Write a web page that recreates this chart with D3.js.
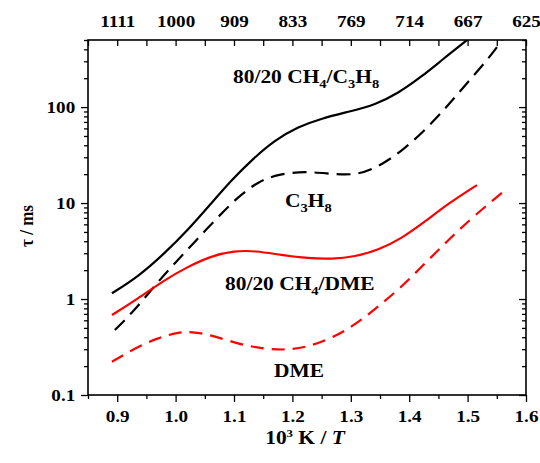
<!DOCTYPE html>
<html>
<head>
<meta charset="utf-8">
<script src="https://cdn.jsdelivr.net/npm/d3@7"></script>
<style>
  html, body { margin: 0; padding: 0; background: #fff; }
  svg text { font-family: "Liberation Serif", "Times New Roman", serif; font-weight: bold; fill: #000; }
</style>
</head>
<body>
<svg id="chart" width="540" height="463"></svg>
<script>
// Ignition delay time vs inverse temperature (log scale)
const xTicks = [0.9, 1.0, 1.1, 1.2, 1.3, 1.4, 1.5, 1.6];
const yTicks = [0.1, 1, 10, 100];
const yTickLabels = ["0.1", "1", "10", "100"];
const topTickLabels = ["1111", "1000", "909", "833", "769", "714", "667", "625"];

// 80/20 CH4/C3H8 (solid black)
const blendC3H8X = [0.891, 0.936, 0.981, 1.021, 1.061, 1.096, 1.130, 1.170, 1.210, 1.250, 1.296, 1.341, 1.381, 1.421, 1.456, 1.499];
const blendC3H8Tau = [1.15, 1.71, 2.99, 5.23, 9.93, 17.4, 28, 45.3, 62.4, 76.2, 89.3, 105, 139, 207, 309, 499];

// C3H8 (dashed black)
const propaneX = [0.896, 0.930, 0.970, 1.001, 1.033, 1.073, 1.107, 1.141, 1.176, 1.221, 1.273, 1.313, 1.353, 1.393, 1.433, 1.467, 1.501, 1.536, 1.559];
const propaneTau = [0.475, 0.767, 1.52, 2.45, 3.95, 7.21, 11.6, 16.7, 20.0, 21.5, 19.9, 19.6, 24.9, 37.1, 62.4, 105, 184, 321, 499];

// 80/20 CH4/DME (solid red)
const blendDMEX = [0.891, 0.936, 0.981, 1.021, 1.061, 1.101, 1.136, 1.181, 1.227, 1.267, 1.307, 1.347, 1.387, 1.427, 1.467, 1.516];
const blendDMETau = [0.681, 1.016, 1.58, 2.17, 2.81, 3.18, 3.18, 2.87, 2.65, 2.61, 2.76, 3.24, 4.28, 6.39, 9.9, 15.4];

// DME (dashed red)
const dmeX = [0.891, 0.930, 0.970, 1.004, 1.027, 1.061, 1.107, 1.153, 1.193, 1.227, 1.267, 1.307, 1.347, 1.387, 1.427, 1.467, 1.507, 1.564];
const dmeTau = [0.222, 0.306, 0.395, 0.450, 0.457, 0.422, 0.340, 0.301, 0.294, 0.319, 0.389, 0.536, 0.832, 1.34, 2.35, 4.12, 7.0, 13.6];

const series = [
  { x: blendC3H8X, y: blendC3H8Tau, color: "#000", dash: null },
  { x: propaneX, y: propaneTau, color: "#000", dash: "14,8" },
  { x: blendDMEX, y: blendDMETau, color: "#ff0000", dash: null },
  { x: dmeX, y: dmeTau, color: "#ff0000", dash: "13,8" }
];

const svg = d3.select("#chart");
const L = 88, R = 526, T = 40, B = 395;
const SX = 1.16;          // horizontal stretch applied to all lettering
const tickFont = "16.5px";

const x = d3.scaleLinear().domain([0.85, 1.6]).range([L, R]);
const y = d3.scaleLog().domain([0.1, 500]).range([B, T]);

svg.append("defs").append("clipPath").attr("id", "plotClip")
  .append("rect").attr("x", L).attr("y", T).attr("width", R - L).attr("height", B - T);

// minor tick positions
const xMinor = d3.range(0.85, 1.6001, 0.05).map(v => +v.toFixed(2)).filter(v => !xTicks.some(t => Math.abs(t - v) < 1e-6));
const yMinor = [];
[0.1, 1, 10, 100].forEach(d => { for (let k = 2; k <= 9; k++) { const v = d * k; if (v <= 500) yMinor.push(v); } });

// bottom axis: outward ticks
const gBottom = svg.append("g").attr("transform", `translate(0,${B})`);
gBottom.call(d3.axisBottom(x).tickValues(xTicks).tickFormat(d3.format(".1f")).tickSize(7).tickPadding(8));
gBottom.append("g").call(d3.axisBottom(x).tickValues(xMinor).tickSize(4).tickFormat(""));

// top axis: inward ticks, labels in K
const gTop = svg.append("g").attr("transform", `translate(0,${T})`);
gTop.call(d3.axisTop(x).tickValues(xTicks).tickSizeInner(-6).tickSizeOuter(0).tickPadding(13)
  .tickFormat((d, i) => topTickLabels[i]));
gTop.append("g").call(d3.axisTop(x).tickValues(xMinor).tickSizeInner(-6).tickSizeOuter(0).tickFormat(""));

// left axis: outward ticks
const gLeft = svg.append("g").attr("transform", `translate(${L},0)`);
gLeft.call(d3.axisLeft(y).tickValues(yTicks).tickFormat((d, i) => yTickLabels[i]).tickSize(7).tickPadding(4));
gLeft.append("g").call(d3.axisLeft(y).tickValues(yMinor).tickSize(4).tickFormat(""));

// right axis: inward ticks
const gRight = svg.append("g").attr("transform", `translate(${R},0)`);
gRight.call(d3.axisRight(y).tickValues(yTicks).tickSizeInner(-7).tickSizeOuter(0).tickFormat(""));
gRight.append("g").call(d3.axisRight(y).tickValues(yMinor).tickSizeInner(-4).tickSizeOuter(0).tickFormat(""));

svg.selectAll(".domain").remove();
svg.selectAll(".tick line").attr("stroke", "#000").attr("stroke-width", 1.3);
svg.selectAll(".tick text").style("font-size", tickFont).attr("fill", "#000")
  .attr("transform", `scale(${SX},1)`);

// frame
svg.append("rect").attr("x", L).attr("y", T).attr("width", R - L).attr("height", B - T)
  .attr("fill", "none").attr("stroke", "#000").attr("stroke-width", 1.6);

// curves (smoothed B-spline through the sampled values)
const line = d3.line().x(d => x(d[0])).y(d => y(d[1])).curve(d3.curveBasis);
const plot = svg.append("g").attr("clip-path", "url(#plotClip)");
series.forEach(s => {
  const pts = s.x.map((v, i) => [v, s.y[i]]);
  plot.append("path").datum(pts).attr("d", line)
    .attr("fill", "none").attr("stroke", s.color).attr("stroke-width", 2.2)
    .attr("stroke-dasharray", s.dash);
});

// series labels with subscripts
function label(xp, yp, parts) {
  const t = svg.append("text").attr("transform", `translate(${xp},${yp}) scale(${SX},1)`)
    .style("font-size", "18.5px");
  let lowered = false;
  parts.forEach(p => {
    if (typeof p === "string") {
      t.append("tspan").attr("dy", lowered ? -5 : 0).text(p);
      lowered = false;
    } else {
      t.append("tspan").attr("dy", lowered ? 0 : 5).style("font-size", "12.5px").text(p.sub);
      lowered = true;
    }
  });
}
label(233, 83, ["80/20 CH", { sub: "4" }, "/C", { sub: "3" }, "H", { sub: "8" }]);
label(285, 207, ["C", { sub: "3" }, "H", { sub: "8" }]);
label(225, 290, ["80/20 CH", { sub: "4" }, "/DME"]);
label(274, 377, ["DME"]);

// axis titles
const xt = svg.append("text").attr("transform", `translate(305,444) scale(${SX},1)`)
  .attr("text-anchor", "middle").style("font-size", "18.5px");
xt.append("tspan").text("10");
xt.append("tspan").attr("dy", -7).style("font-size", "11px").text("3");
xt.append("tspan").attr("dy", 7).text(" K / ");
xt.append("tspan").style("font-style", "italic").text("T");

svg.append("text").attr("transform", `translate(33,226) scale(${SX},1) rotate(-90)`)
  .attr("text-anchor", "middle").style("font-size", "17px").text("\u03c4 / ms");
</script>
</body>
</html>
